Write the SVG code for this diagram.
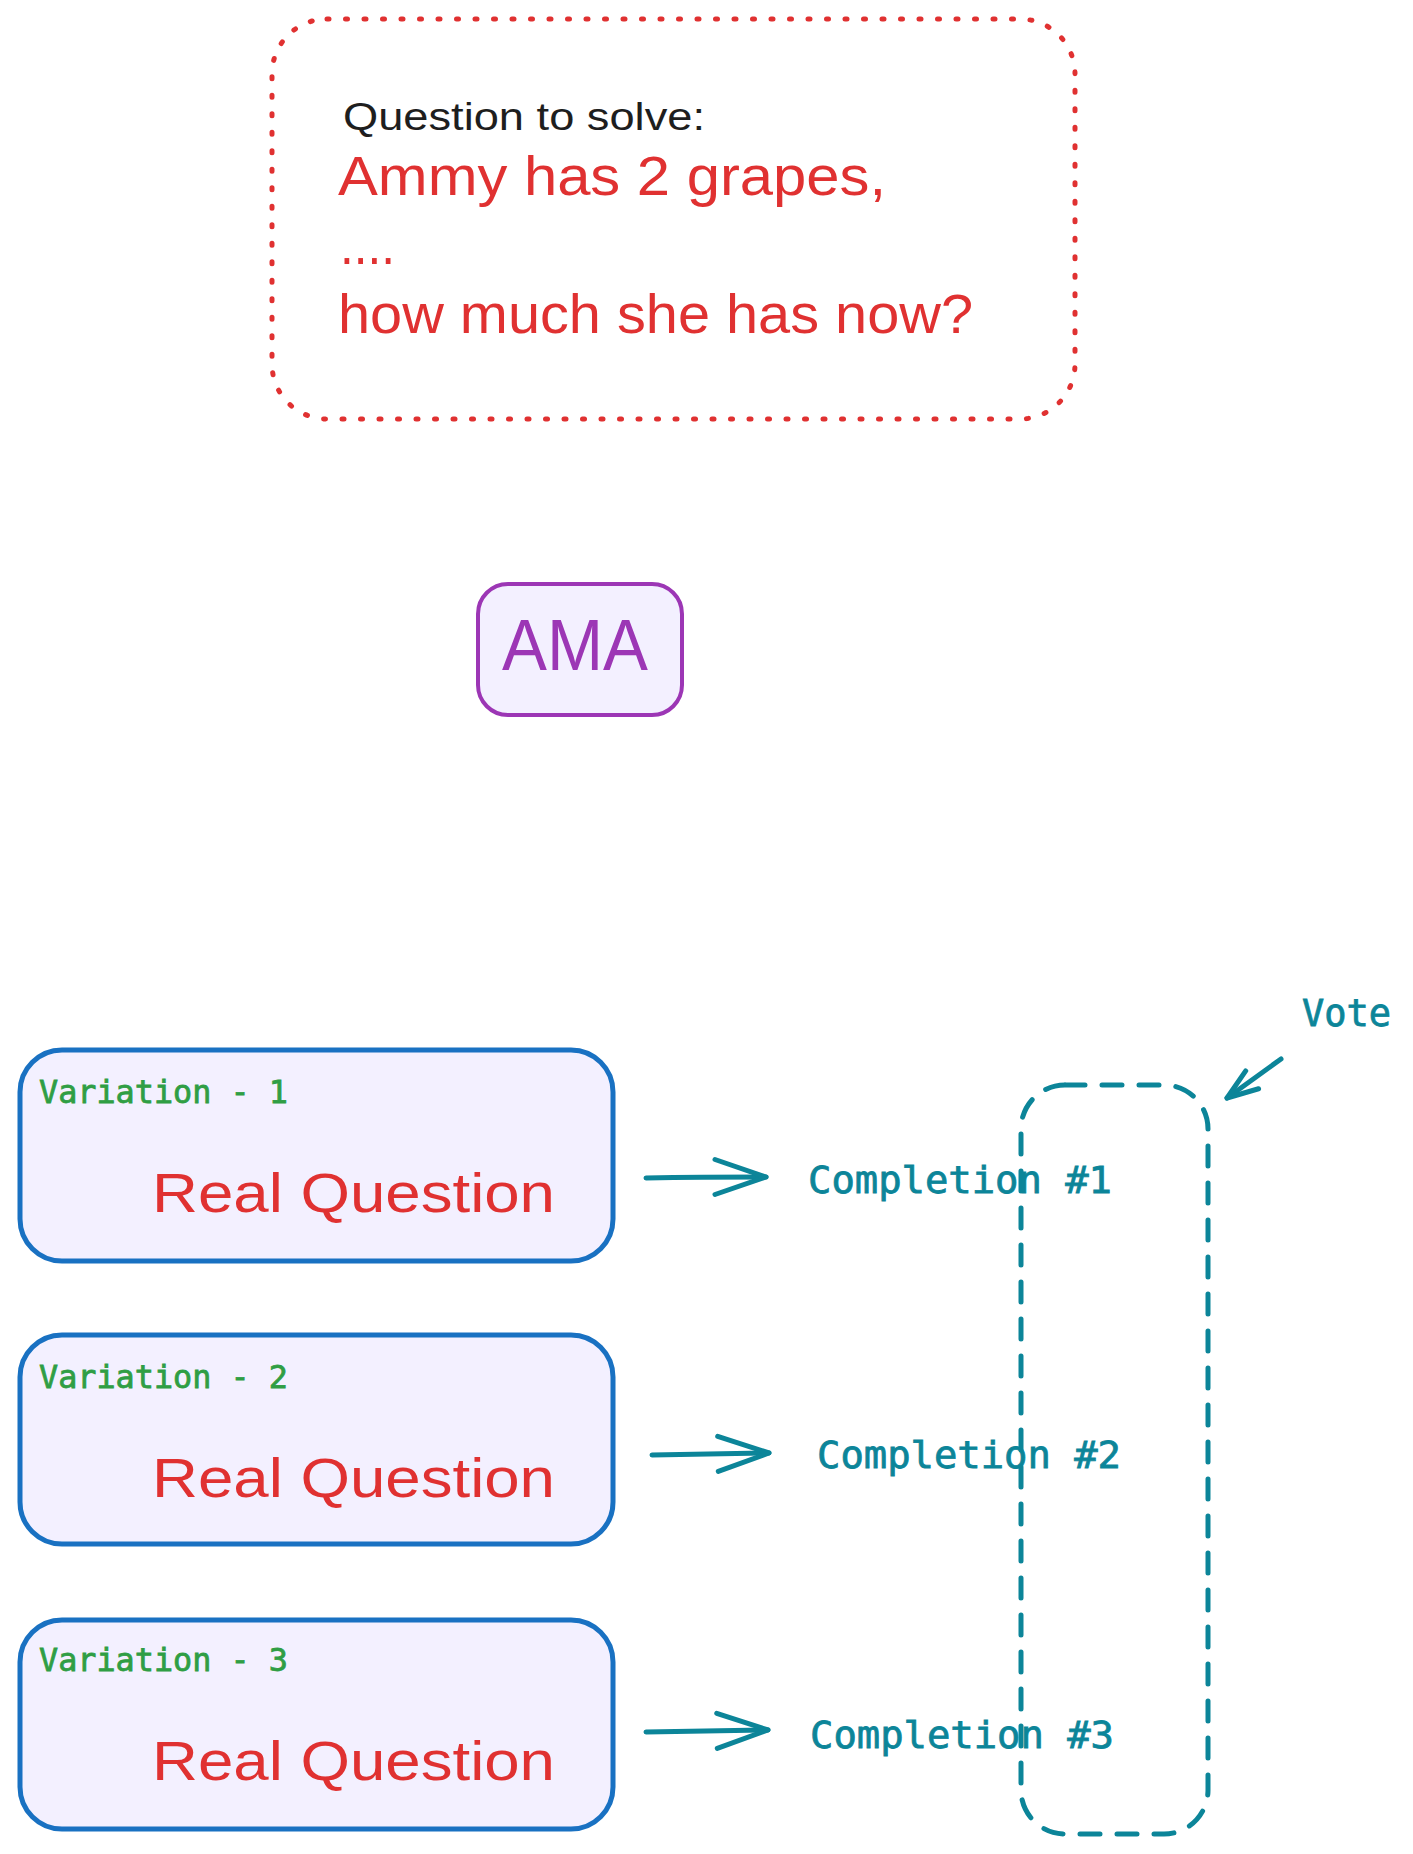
<svg xmlns="http://www.w3.org/2000/svg" width="1413" height="1854" viewBox="0 0 1413 1854">
  <style>
    .hand { font-family: "Liberation Sans", Arial, sans-serif; }
    .mono { font-family: "DejaVu Sans Mono", "Liberation Mono", monospace; stroke-width: 0.8; }
    .red { fill: #e03131; }
    .teal { fill: #0c8599; }
    .mono.teal { stroke: #0c8599; }
    .green { fill: #2f9e44; }
    .mono.green { stroke: #2f9e44; }
    .vbox { fill: #f3f0ff; stroke: #1971c2; stroke-width: 5; }
    .conn { fill: none; stroke: #0c8599; stroke-width: 5; stroke-linecap: round; stroke-linejoin: round; }
  </style>
  <defs>
    <marker id="ah" markerUnits="userSpaceOnUse" markerWidth="70" markerHeight="50" viewBox="-60 -25 70 50" refX="0" refY="0" orient="auto" overflow="visible">
      <path d="M-51,-17.5 L0,0 L-51,17.5" fill="none" stroke="#0c8599" stroke-width="5" stroke-linecap="round" stroke-linejoin="round"/>
    </marker>
    <marker id="ahs" markerUnits="userSpaceOnUse" markerWidth="50" markerHeight="30" viewBox="-40 -15 50 30" refX="0" refY="0" orient="auto" overflow="visible">
      <path d="M-31,-11 L0,0 L-31,11" fill="none" stroke="#0c8599" stroke-width="5" stroke-linecap="round" stroke-linejoin="round"/>
    </marker>
  </defs>
  <rect width="1413" height="1854" fill="#ffffff"/>

  <g id="question">
    <rect x="272" y="19" width="803" height="400" rx="55" ry="55" fill="none" stroke="#e03131" stroke-width="5" stroke-dasharray="2 16.5" stroke-linecap="round"/>
    <text class="hand" x="343" y="130" font-size="38" fill="#1e1e1e" textLength="362" lengthAdjust="spacingAndGlyphs">Question to solve:</text>
    <text class="hand red" x="338" y="195" font-size="56" textLength="548" lengthAdjust="spacingAndGlyphs">Ammy has 2 grapes,</text>
    <text class="hand red" x="340" y="264" font-size="56" textLength="55" lengthAdjust="spacingAndGlyphs">....</text>
    <text class="hand red" x="338" y="333" font-size="56" textLength="635" lengthAdjust="spacingAndGlyphs">how much she has now?</text>
  </g>

  <g id="ama">
    <rect x="478" y="584" width="204" height="131" rx="30" ry="30" fill="#f3f0ff" stroke="#9c36b5" stroke-width="4"/>
    <text class="hand" x="502" y="670" font-size="72" fill="#9c36b5" textLength="146" lengthAdjust="spacingAndGlyphs">AMA</text>
  </g>

  <g id="variation-1">
    <rect class="vbox" x="20" y="1050" width="593" height="211" rx="42" ry="42"/>
    <text class="mono green" x="39" y="1103" font-size="32" textLength="249" lengthAdjust="spacingAndGlyphs">Variation - 1</text>
    <text class="hand red" x="152" y="1212" font-size="56" textLength="403" lengthAdjust="spacingAndGlyphs">Real Question</text>
  </g>

  <g id="variation-2">
    <rect class="vbox" x="20" y="1335" width="593" height="209" rx="42" ry="42"/>
    <text class="mono green" x="39" y="1388" font-size="32" textLength="249" lengthAdjust="spacingAndGlyphs">Variation - 2</text>
    <text class="hand red" x="152" y="1497" font-size="56" textLength="403" lengthAdjust="spacingAndGlyphs">Real Question</text>
  </g>

  <g id="variation-3">
    <rect class="vbox" x="20" y="1620" width="593" height="209" rx="42" ry="42"/>
    <text class="mono green" x="39" y="1671" font-size="32" textLength="249" lengthAdjust="spacingAndGlyphs">Variation - 3</text>
    <text class="hand red" x="152" y="1780" font-size="56" textLength="403" lengthAdjust="spacingAndGlyphs">Real Question</text>
  </g>

  <g id="completion-1">
    <text class="mono teal" x="808" y="1193" font-size="38" textLength="304" lengthAdjust="spacingAndGlyphs">Completion #1</text>
  </g>
  <g id="completion-2">
    <text class="mono teal" x="817" y="1468" font-size="38" textLength="304" lengthAdjust="spacingAndGlyphs">Completion #2</text>
  </g>
  <g id="completion-3">
    <text class="mono teal" x="810" y="1748" font-size="38" textLength="304" lengthAdjust="spacingAndGlyphs">Completion #3</text>
  </g>

  <g id="vote-group">
    <rect x="1021" y="1085" width="187" height="749" rx="44" ry="44" fill="none" stroke="#0c8599" stroke-width="5" stroke-dasharray="20 17" stroke-linecap="round"/>
  </g>

  <g id="vote">
    <text class="mono teal" x="1302" y="1026" font-size="38" textLength="89" lengthAdjust="spacingAndGlyphs">Vote</text>
  </g>

  <g id="connectors">
    <path class="conn" d="M646,1178 Q700,1177 766,1177" marker-end="url(#ah)"/>
    <path class="conn" d="M652,1455 Q710,1454 769,1453" marker-end="url(#ah)"/>
    <path class="conn" d="M646,1732 Q705,1731 768,1730" marker-end="url(#ah)"/>
    <path class="conn" d="M1281,1059 L1227,1098" marker-end="url(#ahs)"/>
  </g>
</svg>
